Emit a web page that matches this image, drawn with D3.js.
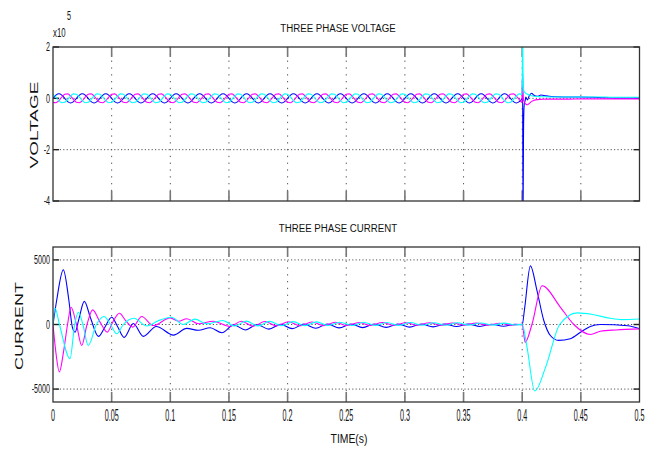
<!DOCTYPE html>
<html><head><meta charset="utf-8">
<script src="https://cdn.jsdelivr.net/npm/d3@7"></script>
<style>
body{margin:0;background:#fff}
svg{display:block}
text{font-family:"Liberation Sans",Arial,sans-serif;fill:#111}
</style>
</head><body>
<svg id="c" width="662" height="453"></svg>
<script>
// ---------------- DATA ----------------
const xTicks = [0, 0.05, 0.1, 0.15, 0.2, 0.25, 0.3, 0.35, 0.4, 0.45, 0.5];
const xTickLabels = ["0", "0.05", "0.1", "0.15", "0.2", "0.25", "0.3", "0.35", "0.4", "0.45", "0.5"];
const vTicks = [2, 0, -2, -4];            // x10^5
const vTickLabels = ["2", "0", "-2", "-4"];
const iTicks = [5000, 0, -5000];
const iTickLabels = ["5000", "0", "-5000"];

// voltage (x10^5 V), steady 50 Hz part sampled every 2.5 ms from 0 to 0.4 s
const vSteadyTime = d3.range(0, 0.40001, 0.0025);
const vBlue = [
0,0.127,0.18,0.127,0,-0.127,-0.18,-0.127, 0,0.127,0.18,0.127,0,-0.127,-0.18,-0.127, 0,0.127,0.18,0.127,0,-0.127,-0.18,-0.127, 0,0.127,0.18,0.127,0,-0.127,-0.18,-0.127,
0,0.127,0.18,0.127,0,-0.127,-0.18,-0.127, 0,0.127,0.18,0.127,0,-0.127,-0.18,-0.127, 0,0.127,0.18,0.127,0,-0.127,-0.18,-0.127, 0,0.127,0.18,0.127,0,-0.127,-0.18,-0.127,
0,0.127,0.18,0.127,0,-0.127,-0.18,-0.127, 0,0.127,0.18,0.127,0,-0.127,-0.18,-0.127, 0,0.127,0.18,0.127,0,-0.127,-0.18,-0.127, 0,0.127,0.18,0.127,0,-0.127,-0.18,-0.127,
0,0.127,0.18,0.127,0,-0.127,-0.18,-0.127, 0,0.127,0.18,0.127,0,-0.127,-0.18,-0.127, 0,0.127,0.18,0.127,0,-0.127,-0.18,-0.127, 0,0.127,0.18,0.127,0,-0.127,-0.18,-0.127,
0,0.127,0.18,0.127,0,-0.127,-0.18,-0.127, 0,0.127,0.18,0.127,0,-0.127,-0.18,-0.127, 0,0.127,0.18,0.127,0,-0.127,-0.18,-0.127, 0,0.127,0.18,0.127,0,-0.127,-0.18,-0.127,
0];
const vMagenta = [
-0.156,-0.174,-0.09,0.047,0.156,0.174,0.09,-0.047, -0.156,-0.174,-0.09,0.047,0.156,0.174,0.09,-0.047, -0.156,-0.174,-0.09,0.047,0.156,0.174,0.09,-0.047, -0.156,-0.174,-0.09,0.047,0.156,0.174,0.09,-0.047,
-0.156,-0.174,-0.09,0.047,0.156,0.174,0.09,-0.047, -0.156,-0.174,-0.09,0.047,0.156,0.174,0.09,-0.047, -0.156,-0.174,-0.09,0.047,0.156,0.174,0.09,-0.047, -0.156,-0.174,-0.09,0.047,0.156,0.174,0.09,-0.047,
-0.156,-0.174,-0.09,0.047,0.156,0.174,0.09,-0.047, -0.156,-0.174,-0.09,0.047,0.156,0.174,0.09,-0.047, -0.156,-0.174,-0.09,0.047,0.156,0.174,0.09,-0.047, -0.156,-0.174,-0.09,0.047,0.156,0.174,0.09,-0.047,
-0.156,-0.174,-0.09,0.047,0.156,0.174,0.09,-0.047, -0.156,-0.174,-0.09,0.047,0.156,0.174,0.09,-0.047, -0.156,-0.174,-0.09,0.047,0.156,0.174,0.09,-0.047, -0.156,-0.174,-0.09,0.047,0.156,0.174,0.09,-0.047,
-0.156,-0.174,-0.09,0.047,0.156,0.174,0.09,-0.047, -0.156,-0.174,-0.09,0.047,0.156,0.174,0.09,-0.047, -0.156,-0.174,-0.09,0.047,0.156,0.174,0.09,-0.047, -0.156,-0.174,-0.09,0.047,0.156,0.174,0.09,-0.047,
-0.156];
const vCyan = [
0.156,0.047,-0.09,-0.174,-0.156,-0.047,0.09,0.174, 0.156,0.047,-0.09,-0.174,-0.156,-0.047,0.09,0.174, 0.156,0.047,-0.09,-0.174,-0.156,-0.047,0.09,0.174, 0.156,0.047,-0.09,-0.174,-0.156,-0.047,0.09,0.174,
0.156,0.047,-0.09,-0.174,-0.156,-0.047,0.09,0.174, 0.156,0.047,-0.09,-0.174,-0.156,-0.047,0.09,0.174, 0.156,0.047,-0.09,-0.174,-0.156,-0.047,0.09,0.174, 0.156,0.047,-0.09,-0.174,-0.156,-0.047,0.09,0.174,
0.156,0.047,-0.09,-0.174,-0.156,-0.047,0.09,0.174, 0.156,0.047,-0.09,-0.174,-0.156,-0.047,0.09,0.174, 0.156,0.047,-0.09,-0.174,-0.156,-0.047,0.09,0.174, 0.156,0.047,-0.09,-0.174,-0.156,-0.047,0.09,0.174,
0.156,0.047,-0.09,-0.174,-0.156,-0.047,0.09,0.174, 0.156,0.047,-0.09,-0.174,-0.156,-0.047,0.09,0.174, 0.156,0.047,-0.09,-0.174,-0.156,-0.047,0.09,0.174, 0.156,0.047,-0.09,-0.174,-0.156,-0.047,0.09,0.174,
0.156,0.047,-0.09,-0.174,-0.156,-0.047,0.09,0.174, 0.156,0.047,-0.09,-0.174,-0.156,-0.047,0.09,0.174, 0.156,0.047,-0.09,-0.174,-0.156,-0.047,0.09,0.174, 0.156,0.047,-0.09,-0.174,-0.156,-0.047,0.09,0.174,
0.156];

// voltage transient after the fault at 0.4 s
const vFaultTime   = [0.4003,0.4007,0.4011,0.4015,0.402,0.4025,0.403,0.4045,0.406,0.408,0.41,0.413,0.416,0.42,0.425,0.43,0.44,0.45,0.46,0.47,0.48,0.49,0.5];
const vFaultBlue   = [1.0,-4.8,-1.5,-0.4,-0.15,-0.1,0.05,-0.06,0.1,0.2,0.12,0.08,0.13,0.1,0.07,0.06,0.05,0.05,0.04,0.02,0.01,0.01,0.01];
const vFaultCyan   = [2.9,1.0,0.4,0.28,0.24,0.22,0.2,0.16,0.13,0.1,0.08,0.07,0.06,0.06,0.05,0.05,0.05,0.05,0.05,0.05,0.04,0.04,0.04];
const vFaultMag    = [1.0,0.3,-0.05,-0.1,-0.15,-0.2,-0.22,-0.25,-0.2,-0.12,-0.08,-0.05,-0.04,-0.03,-0.03,-0.03,-0.03,-0.02,-0.02,-0.02,-0.02,-0.02,-0.02];

// current (A), key points
const iBlueT = [0,0.003,0.0088,0.0135,0.0165,0.0188,0.022,0.0267,0.032,0.0387,0.044,0.05,0.055,0.0606,0.0685,0.077,0.088,0.1027,0.114,0.124,0.134,0.144,0.154,0.164,0.174,0.184,0.194,0.204,0.214,0.224,0.234,0.244,0.254,0.264,0.274,0.284,0.294,0.304,0.314,0.324,0.334,0.344,0.354,0.364,0.374,0.384,0.394,0.4,0.402,0.407,0.4126,0.4184,0.424,0.431,0.441,0.4497,0.458,0.4667,0.49,0.5];
const iBlueV = [0,1800,4230,1900,-200,-590,400,1790,500,-920,-250,560,-150,-1000,80,-920,-150,-820,-300,-450,-250,-640,-30,-420,-10,-360,10,-320,30,-290,40,-260,40,-240,40,-220,40,-200,40,-180,30,-160,30,-150,20,-140,10,-20,1200,4540,2620,310,-850,-1230,-1100,-600,-150,0,-100,-330];
const iMagT = [0,0.0025,0.0054,0.009,0.0124,0.0154,0.02,0.0245,0.029,0.0338,0.04,0.0463,0.051,0.0566,0.062,0.068,0.0756,0.0856,0.0998,0.107,0.114,0.124,0.1365,0.1507,0.1607,0.1707,0.1807,0.1907,0.2007,0.2107,0.2207,0.2307,0.2407,0.2507,0.2607,0.2707,0.2807,0.2907,0.3007,0.3107,0.3207,0.3307,0.3407,0.3507,0.3607,0.3707,0.3807,0.3907,0.4,0.4025,0.4083,0.417,0.4326,0.444,0.4582,0.4667,0.48,0.5];
const iMagV = [0,-2200,-3670,-2100,0,1330,0,-1620,0,1130,200,-590,200,870,300,-200,615,-80,515,250,440,60,250,-150,250,-130,230,-110,210,-100,190,-90,170,-80,160,-70,150,-70,140,-60,130,-60,120,-50,110,-50,100,-40,20,-1380,0,3000,1330,0,-770,-520,-420,-340];
const iCyanT = [0,0.0017,0.0055,0.0145,0.0185,0.0216,0.0255,0.03,0.037,0.0435,0.049,0.0543,0.06,0.069,0.08,0.09,0.101,0.111,0.121,0.131,0.1447,0.1547,0.1647,0.1747,0.1847,0.1947,0.2047,0.2147,0.2247,0.2347,0.2447,0.2547,0.2647,0.2747,0.2847,0.2947,0.3047,0.3147,0.3247,0.3347,0.3447,0.3547,0.3647,0.3747,0.3847,0.3947,0.4,0.404,0.4107,0.42,0.432,0.4468,0.46,0.475,0.485,0.5];
const iCyanV = [0,1280,0,-2640,0,950,0,-1620,0,615,0,-720,0,480,-120,300,560,0,420,50,310,-120,260,-110,240,-100,220,-90,200,-80,180,-80,170,-70,160,-70,150,-60,140,-60,130,-50,120,-50,110,-40,20,-1700,-5150,-3300,0,900,780,480,380,430];

// ---------------- DRAW ----------------
const svg = d3.select("#c");
const X0 = 53, X1 = 639.5;
const x = d3.scaleLinear().domain([0, 0.5]).range([X0, X1]);
const yV = d3.scaleLinear().domain([-4, 2]).range([201, 47]);
const yI = d3.scaleLinear().domain([-6000, 6000]).range([402, 247]);

function ctext(g, px, py, s, size, sx, anchor, rot) {
  return g.append("text")
    .attr("transform", `translate(${px},${py})` + (rot ? ` rotate(${rot})` : "") + ` scale(${sx},1)`)
    .attr("text-anchor", anchor)
    .attr("dominant-baseline", "central")
    .style("font-size", size + "px")
    .text(s);
}

function panel(id, y, yt, ytl, series, showX) {
  const g = svg.append("g");
  const top = y.range()[1], bot = y.range()[0];
  // grid
  xTicks.slice(1, -1).forEach(v => {
    g.append("line").attr("x1", x(v)).attr("x2", x(v)).attr("y1", top).attr("y2", bot)
      .attr("stroke", "#555").attr("stroke-width", 1).attr("stroke-dasharray", "1.3,5.5");
  });
  yt.forEach(v => {
    const py = y(v);
    if (Math.abs(py - top) < 1 || Math.abs(py - bot) < 1) return;
    g.append("line").attr("x1", X0).attr("x2", X1).attr("y1", py).attr("y2", py)
      .attr("stroke", "#555").attr("stroke-width", 1).attr("stroke-dasharray", "1.2,2.2");
  });
  // ticks (under the data lines)
  xTicks.slice(1, -1).forEach(v => {
    g.append("line").attr("x1", x(v)).attr("x2", x(v)).attr("y1", top).attr("y2", top + 10)
      .attr("stroke", "#777").attr("stroke-width", 1.6);
    g.append("line").attr("x1", x(v)).attr("x2", x(v)).attr("y1", bot).attr("y2", bot - 10)
      .attr("stroke", "#777").attr("stroke-width", 1.6);
  });
  yt.forEach(v => {
    g.append("line").attr("x1", X0).attr("x2", X0 + 6).attr("y1", y(v)).attr("y2", y(v))
      .attr("stroke", "#222").attr("stroke-width", 1.4);
    g.append("line").attr("x1", X1).attr("x2", X1 - 6).attr("y1", y(v)).attr("y2", y(v))
      .attr("stroke", "#222").attr("stroke-width", 1.4);
  });
  // lines
  g.append("clipPath").attr("id", "clip" + id).append("rect")
    .attr("x", X0).attr("y", top).attr("width", X1 - X0).attr("height", bot - top);
  const line = d3.line().x(d => x(d[0])).y(d => y(d[1])).curve(d3.curveMonotoneX);
  const lg = g.append("g").attr("clip-path", `url(#clip${id})`);
  series.forEach(s => {
    const pts = s.t.map((t, i) => [t, s.v[i]]);
    lg.append("path").attr("d", line(pts)).attr("fill", "none")
      .attr("stroke", s.c).attr("stroke-width", 1.1)
      .attr("stroke-linejoin", "round");
  });
  // frame
  g.append("rect").attr("x", X0).attr("y", top).attr("width", X1 - X0).attr("height", bot - top)
    .attr("fill", "none").attr("stroke", "#333").attr("stroke-width", 1.3);
  // y tick labels
  yt.forEach((v, i) => ctext(g, 50, y(v), ytl[i], 13, 0.55, "end"));
  if (showX) {
    xTicks.forEach((v, i) => ctext(g, x(v), 416, xTickLabels[i], 16, 0.45, "middle"));
  }
  return g;
}

const vT = vSteadyTime.concat(vFaultTime);
panel("v", yV, vTicks, vTickLabels, [
  {t: vT, v: vBlue.concat(vFaultBlue), c: "#0000ff"},
  {t: vT, v: vMagenta.concat(vFaultMag), c: "#ff00ff"},
  {t: vT, v: vCyan.concat(vFaultCyan), c: "#00ffff"}
], false);

panel("i", yI, iTicks, iTickLabels, [
  {t: iBlueT, v: iBlueV, c: "#0000ff"},
  {t: iMagT, v: iMagV, c: "#ff00ff"},
  {t: iCyanT, v: iCyanV, c: "#00ffff"}
], true);

// titles and labels
ctext(svg, 338, 28, "THREE PHASE VOLTAGE", 11, 0.88, "middle");
ctext(svg, 338, 228, "THREE PHASE CURRENT", 11, 0.88, "middle");
ctext(svg, 349, 438, "TIME(s)", 13, 0.8, "middle");
ctext(svg, 34, 125, "VOLTAGE", 10, 1.9, "middle", -90);
ctext(svg, 20, 326, "CURRENT", 10, 1.8, "middle", -90);
ctext(svg, 53, 32, "x10", 13, 0.6, "start");
ctext(svg, 67, 16, "5", 12, 0.6, "start");
</script>
</body></html>
